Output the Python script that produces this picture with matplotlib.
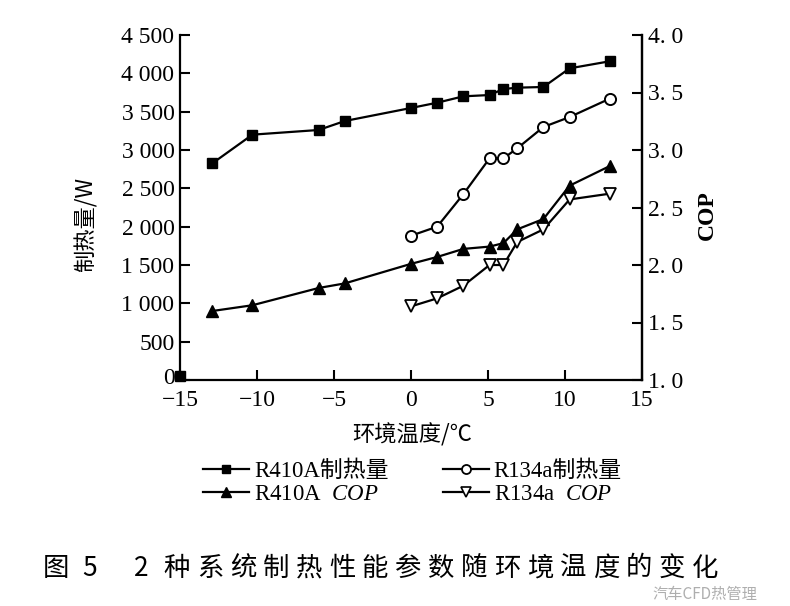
import matplotlib
matplotlib.use("Agg")
import matplotlib.pyplot as plt
import matplotlib.transforms as mtransforms
from matplotlib.lines import Line2D

plt.rcParams['font.family'] = ['Liberation Serif', 'Noto Sans CJK SC', 'DejaVu Sans']
plt.rcParams['mathtext.fontset'] = 'custom'
plt.rcParams['mathtext.rm'] = 'Liberation Serif'
plt.rcParams['mathtext.it'] = 'Liberation Serif:italic'
plt.rcParams['axes.unicode_minus'] = True

# ---------------- data ----------------
temp_r410a = [-12.9, -10.3, -6.0, -4.3, 0.0, 1.7, 3.4, 5.1, 6.0, 6.9, 8.6, 10.3, 12.9]
heat_r410a = [2826, 3200, 3261, 3378, 3548, 3617, 3700, 3717, 3795, 3813, 3822, 4065, 4157]
cop_r410a = [1.60, 1.65, 1.80, 1.84, 2.01, 2.07, 2.14, 2.16, 2.19, 2.31, 2.40, 2.69, 2.86]

temp_r134a = [0.0, 1.7, 3.4, 5.1, 6.0, 6.9, 8.6, 10.3, 12.9]
heat_r134a = [1882, 2000, 2424, 2891, 2891, 3022, 3300, 3430, 3669]
cop_r134a = [1.64, 1.71, 1.82, 2.00, 2.00, 2.20, 2.31, 2.57, 2.62]

stray_temp = [-15.0]
stray_heat = [50]

x_ticks = [-15, -10, -5, 0, 5, 10, 15]
y_left_ticks = [0, 500, 1000, 1500, 2000, 2500, 3000, 3500, 4000, 4500]
y_left_labels = ['0', '500', '1 000', '1 500', '2 000', '2 500', '3 000', '3 500', '4 000', '4 500']
y_right_ticks = [1.0, 1.5, 2.0, 2.5, 3.0, 3.5, 4.0]
y_right_labels = ['1. 0', '1. 5', '2. 0', '2. 5', '3. 0', '3. 5', '4. 0']

labels = ['R410A制热量', r'R410A  $\mathit{COP}$', 'R134a制热量', r'R134a  $\mathit{COP}$']
xlabel = '环境温度/℃'
ylabel_left = '制热量/W'
ylabel_right = 'COP'
caption = '图5  2种系统制热性能参数随环境温度的变化'
watermark = '汽车CFD热管理'

# ---------------- figure ----------------
W, H = 790, 606
fig = plt.figure(figsize=(W / 100, H / 100), dpi=100)
L, R, T, B = 180, 642, 35, 380
ax = fig.add_axes([L / W, 1 - B / H, (R - L) / W, (B - T) / H])
ax2 = ax.twinx()

lw = 1.6
ax.plot(temp_r410a, heat_r410a, color='black', lw=lw, marker='s', ms=7.5,
        mfc='black', mec='black', clip_on=False, zorder=3)
ax.plot(temp_r134a, heat_r134a, color='black', lw=lw, marker='o', ms=8,
        mfc='white', mec='black', mew=1.4, clip_on=False, zorder=3)
ax.plot(stray_temp, stray_heat, ls='none', marker='s', ms=7.5, color='black', clip_on=False, zorder=4)
ax2.plot(temp_r410a, cop_r410a, color='black', lw=lw, marker='^', ms=9,
         mfc='black', mec='black', clip_on=False, zorder=3)
ax2.plot(temp_r134a, cop_r134a, color='black', lw=lw, marker='v', ms=9,
         mfc='white', mec='black', mew=1.3, clip_on=False, zorder=3)

ax.set_xlim(-15, 15)
ax.set_ylim(0, 4500)
ax2.set_ylim(1.0, 4.0)
ax.set_xticks(x_ticks)
ax.set_xticklabels([('\u2212' + str(abs(v))) if v < 0 else str(v) for v in x_ticks])
ax.set_yticks(y_left_ticks)
ax.set_yticklabels(y_left_labels)
ax2.set_yticks(y_right_ticks)
ax2.set_yticklabels(y_right_labels)

for a in (ax, ax2):
    a.spines['top'].set_visible(False)
    for s in a.spines.values():
        s.set_linewidth(1.6)
    a.tick_params(direction='in', length=7, width=1.5, labelsize=17, pad=4)
ax.tick_params(axis='x', pad=7)
ax2.spines['left'].set_visible(False)
ax2.spines['bottom'].set_visible(False)

# nudge the "0" label up a little so it does not collide with "−15"
zero_lab = ax.get_yticklabels()[0]
zero_lab.set_transform(zero_lab.get_transform() +
                       mtransforms.ScaledTranslation(0, 4 / 100, fig.dpi_scale_trans))

fs_lab = 16
fig.text(86 / W, 1 - 225 / H, ylabel_left, rotation=90, ha='center', va='center',
         fontsize=fs_lab, family=['Noto Sans CJK SC', 'Liberation Serif'])
fig.text(707 / W, 1 - 215 / H, ylabel_right, rotation=90, ha='center', va='center',
         fontsize=17, fontweight='bold', family='Liberation Serif')
fig.text(412 / W, 1 - 435 / H, xlabel, ha='center', va='center', fontsize=fs_lab,
         family=['Noto Sans CJK SC', 'Liberation Serif'])

handles = [
    Line2D([], [], color='black', lw=1.6, marker='s', ms=6, mfc='black'),
    Line2D([], [], color='black', lw=1.6, marker='^', ms=7, mfc='black'),
    Line2D([], [], color='black', lw=1.6, marker='o', ms=6.5, mfc='white', mew=1.3),
    Line2D([], [], color='black', lw=1.6, marker='v', ms=7, mfc='white', mew=1.2),
]
leg = fig.legend(handles, [labels[0], labels[1], labels[2], labels[3]], ncol=2,
                 loc='upper left', bbox_to_anchor=(192 / W, 1 - 449 / H), frameon=False,
                 prop={'family': ['Liberation Serif', 'Noto Sans CJK SC'], 'size': 16.5},
                 handlelength=2.0, handletextpad=0.2, columnspacing=2.4, labelspacing=0.1,
                 borderpad=0)

# caption with wide character spacing
cap_font = ['Noto Sans CJK SC', 'DejaVu Sans']
cap_kw = dict(ha='center', va='center', fontsize=19, family=cap_font)
fig.text(56 / W, 1 - 568 / H, caption[0], **cap_kw)
fig.text(90 / W, 1 - 568 / H, caption[1], **cap_kw)
fig.text(141 / W, 1 - 568 / H, caption[4], **cap_kw)
for i, ch in enumerate(caption[5:]):
    fig.text((177 + 33 * i) / W, 1 - 568 / H, ch, **cap_kw)

fig.text(705 / W, 1 - 594 / H, watermark, ha='center', va='center', fontsize=11,
         family=cap_font, color='#9a9a9a', alpha=0.8)

fig.savefig('out.png', dpi=100)
